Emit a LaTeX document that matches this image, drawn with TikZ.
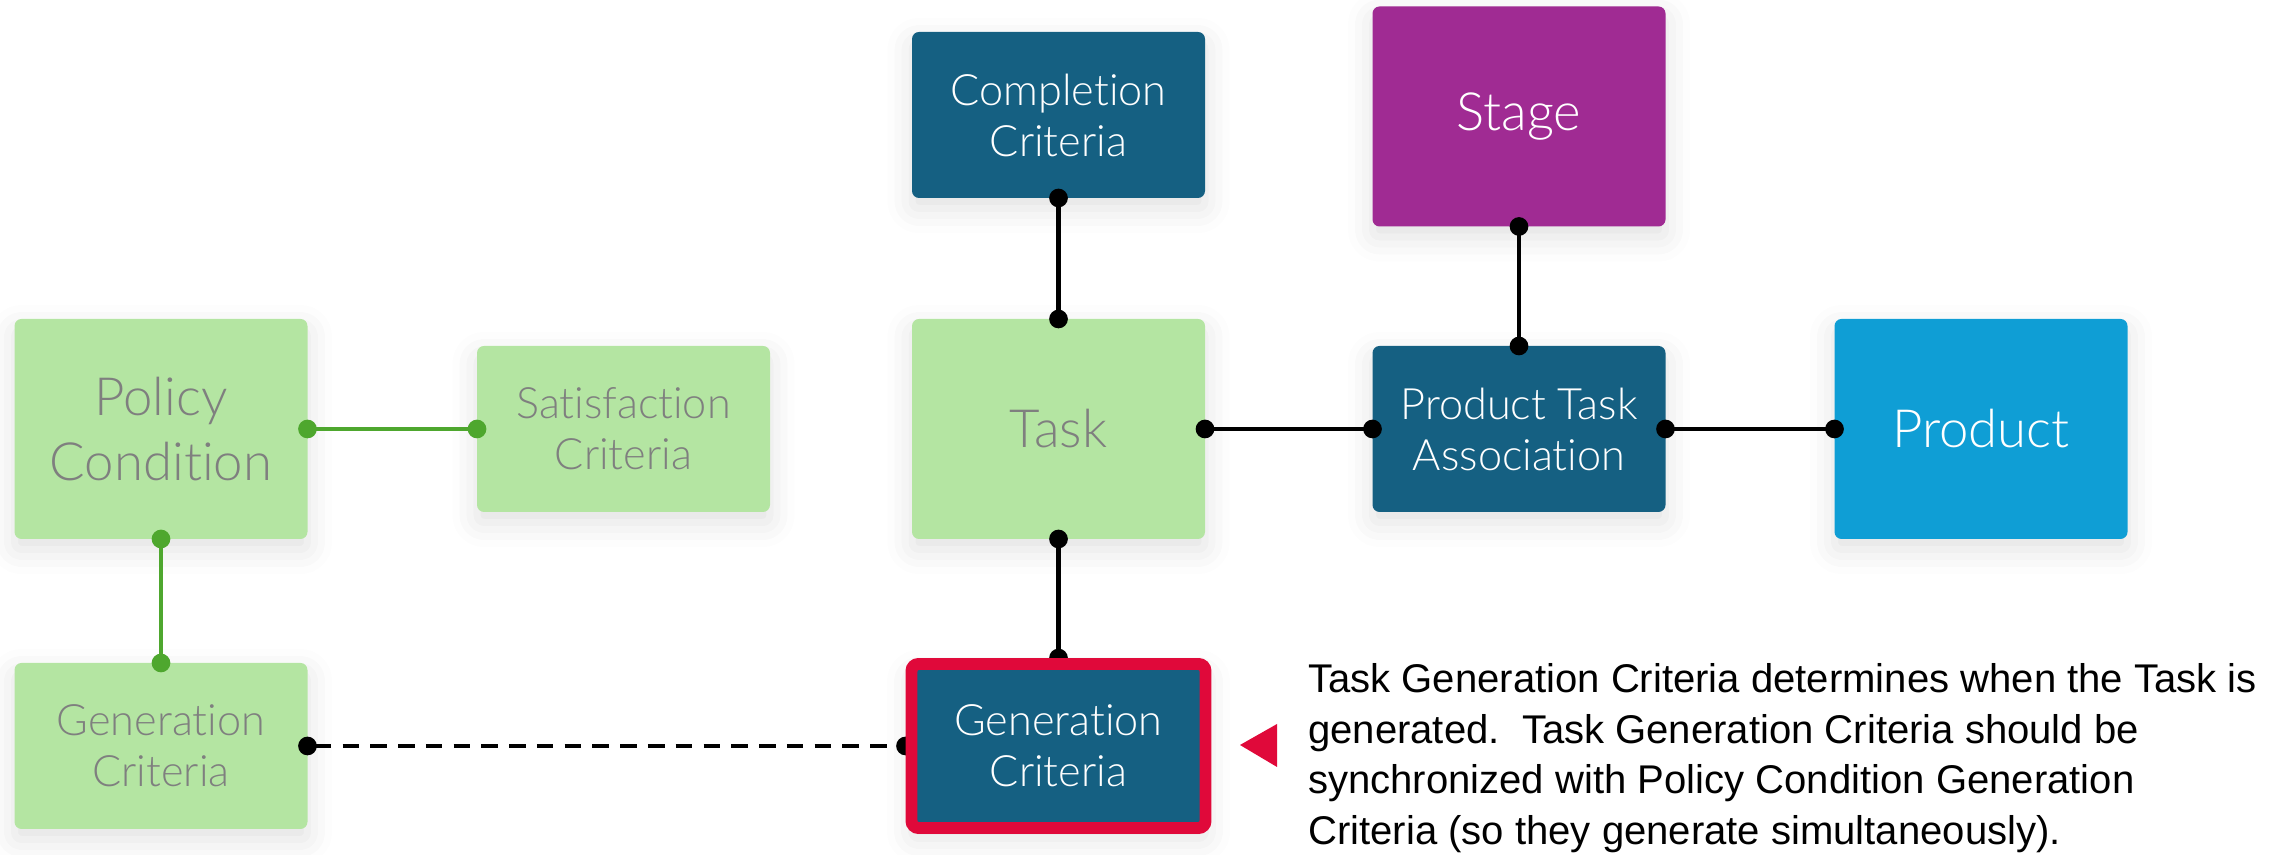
\documentclass[tikz,border=0pt]{standalone}
\usepackage{fontspec}
\usetikzlibrary{arrows.meta,shadows.blur}

\newfontfamily\boxfont{Lato Light}[Ligatures=NoCommon]
\newfontfamily\notefont{Liberation Sans}

\definecolor{leafgreen}{HTML}{B4E5A2}
\definecolor{linegreen}{HTML}{4EA72E}
\definecolor{deepteal}{HTML}{156082}
\definecolor{plum}{HTML}{A02B93}
\definecolor{skyblue}{HTML}{0F9ED5}
\definecolor{alertred}{HTML}{E0093A}
\definecolor{softgray}{HTML}{7F7F7F}

% the framed box sits above its connectors
\pgfdeclarelayer{front}
\pgfsetlayers{main,front}

\begin{document}
\begin{tikzpicture}[
    box/.style={rectangle, rounded corners=2pt, minimum width=2.93cm, align=center,
        inner sep=0pt, outer sep=0pt,
        blur shadow={shadow xshift=0pt, shadow yshift=-3pt, shadow blur radius=7pt, shadow opacity=12}},
    tall/.style={box, minimum height=2.2cm, font=\boxfont\fontsize{15}{18.5}\selectfont},
    short/.style={box, minimum height=1.66cm, font=\boxfont\fontsize{12.3}{14.5}\selectfont},
    soft/.style={fill=leafgreen, text=softgray},
    dark/.style={fill=deepteal, text=white},
    link/.style={line width=1.15pt, {Circle[length=5.3pt]}-{Circle[length=5.3pt]},
        shorten <=-2.65pt, shorten >=-2.65pt},
]
    \useasboundingbox (0, 0) rectangle (22.91, 8.55);

    \node[tall, soft] (pcond) at (1.61, 4.26) {Policy\\Condition};
    \node[short, soft] (satcrit) at (6.235, 4.26) {Satisfaction\\Criteria};
    \node[short, soft] (pgencrit) at (1.61, 1.09) {Generation\\Criteria};
    \node[short, dark] (compcrit) at (10.585, 7.40) {Completion\\Criteria};
    \node[tall, soft] (task) at (10.585, 4.26) {Task};
    \node[tall, fill=plum, text=white] (stage) at (15.19, 7.385) {Stage};
    \node[short, dark] (pta) at (15.19, 4.26) {Product Task\\Association};
    \node[tall, fill=skyblue, text=white] (product) at (19.81, 4.26) {Product};
    \begin{pgfonlayer}{front}
        \node[short, dark, draw=alertred, line width=3.4pt, outer sep=1.7pt,
            minimum width=2.94cm, minimum height=1.64cm] (tgencrit) at (10.585, 1.09) {Generation\\Criteria};
    \end{pgfonlayer}

    \draw[link, linegreen] (pcond.east) -- (satcrit.west);
    \draw[link, linegreen] (pcond.south) -- (pgencrit.north);
    \draw[link] (compcrit.south) -- (task.north);
    \draw[link] (task.east) -- (pta.west);
    \draw[link] (stage.south) -- (pta.north);
    \draw[link] (pta.east) -- (product.west);
    \draw[link] (task.south) -- (tgencrit.north);
    \draw[link, dash pattern=on 4.7pt off 3.2pt] (pgencrit.east) -- (tgencrit.west);

    % pointer and remark
    \fill[alertred] (12.40, 1.10) -- (12.77, 1.31) -- (12.77, 0.88) -- cycle;
    \node[anchor=north west, inner sep=0pt, align=left,
        font=\notefont\fontsize{11.4}{14.4}\selectfont] (note) at (13.075, 1.92)
        {Task Generation Criteria determines when the Task is\\
         generated.\ \ Task Generation Criteria should be\\
         synchronized with Policy Condition Generation\\
         Criteria (so they generate simultaneously).};
\end{tikzpicture}
\end{document}
